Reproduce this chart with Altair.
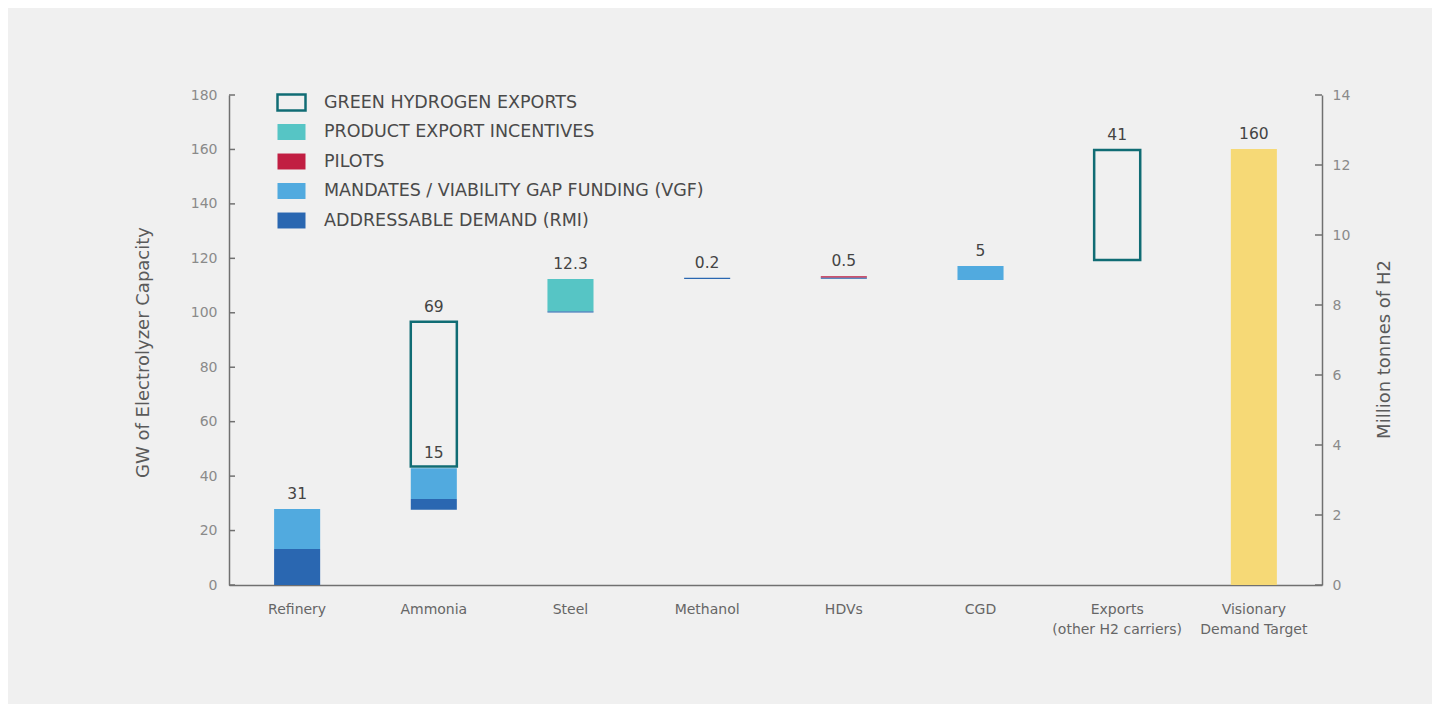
import altair as alt
import pandas as pd

# ---------------- data ----------------
categories = ["Refinery", "Ammonia", "Steel", "Methanol", "HDVs", "CGD",
              "Exports|(other H2 carriers)", "Visionary|Demand Target"]

legend_types = ["GREEN HYDROGEN EXPORTS", "PRODUCT EXPORT INCENTIVES", "PILOTS",
                "MANDATES / VIABILITY GAP FUNDING (VGF)", "ADDRESSABLE DEMAND (RMI)"]
legend_fills = ["transparent", "#56c5c5", "#c11e42", "#51aadf", "#2a67b1"]
legend_strokes = ["#106c74", "transparent", "transparent", "transparent", "transparent"]

ADDR, MAND, PIL, PROD, GREEN = (legend_types[4], legend_types[3], legend_types[2],
                                legend_types[1], legend_types[0])

seg_category = ["Refinery", "Refinery", "Ammonia", "Ammonia", "Ammonia", "Steel", "Steel",
                "Methanol", "HDVs", "HDVs", "CGD", "Exports|(other H2 carriers)"]
seg_type = [ADDR, MAND, ADDR, MAND, GREEN, ADDR, PROD, ADDR, ADDR, PIL, MAND, GREEN]
seg_start = [0, 13.2, 27.6, 31.6, 43.5, 100.1, 100.6, 112.4, 112.5, 113.0, 112.0, 119.4]
seg_end = [13.2, 27.9, 31.6, 42.9, 96.7, 100.6, 112.4, 112.9, 113.0, 113.4, 117.2, 159.8]

target_category = ["Visionary|Demand Target"]
target_value = [160.2]

label_category = ["Refinery", "Ammonia", "Ammonia", "Steel", "Methanol", "HDVs", "CGD",
                  "Exports|(other H2 carriers)", "Visionary|Demand Target"]
label_text = ["31", "69", "15", "12.3", "0.2", "0.5", "5", "41", "160"]
label_anchor = [27.9, 96.7, 42.9, 112.4, 112.9, 113.4, 117.2, 159.8, 160.2]

left_ticks = [0, 20, 40, 60, 80, 100, 120, 140, 160, 180]
right_ticks = [0, 2, 4, 6, 8, 10, 12, 14]

# ---------------- layout ----------------
W, H = 1093, 490
AXIS_COL = "#707070"
FONT = "DejaVu Sans"

segs = pd.DataFrame({"cat": seg_category, "type": seg_type, "start": seg_start, "end": seg_end})
target = pd.DataFrame({"cat": target_category, "value": target_value})
labels = pd.DataFrame({"cat": label_category, "text": label_text, "anchor": label_anchor})
lt = pd.DataFrame({"v": left_ticks})
rt = pd.DataFrame({"v": right_ticks})

xscale = alt.Scale(domain=categories, paddingInner=0.663, paddingOuter=0.33)
yscale = alt.Scale(domain=[0, 180], nice=False, zero=True)

x_axis = alt.Axis(labelExpr="split(datum.label, '|')", labelAngle=0, labelAlign="center",
                  labelBaseline="top", ticks=False, tickSize=0, labelPadding=17,
                  labelFont=FONT, labelFontSize=14, labelColor="#666666",
                  labelLineHeight=20, domainColor=AXIS_COL, domainWidth=1.5, grid=False)

y_axis = alt.Axis(values=left_ticks, ticks=False, tickSize=0, labelPadding=12,
                  labelFont=FONT, labelFontSize=14, labelColor="#8a8a8a",
                  domainColor=AXIS_COL, domainWidth=1.5, grid=False,
                  title="GW of Electrolyzer Capacity", titleFont=FONT,
                  titleFontSize=18, titleFontWeight="normal", titleColor="#5a5a5a",
                  titleAngle=270, titleAlign="center", titleBaseline="middle",
                  titleX=-86, titleY=257)


def xenc():
    return alt.X("cat:N", scale=xscale, sort=categories, title=None, axis=x_axis)


legend = alt.Legend(orient="none", legendX=47, legendY=-8, direction="vertical", title=None,
                    symbolType="M-1,-0.57L1,-0.57L1,0.57L-1,0.57Z", symbolSize=784,
                    symbolStrokeWidth=2.5, symbolOpacity=1,
                    labelFont=FONT, labelFontSize=17.5, labelColor="#4a4a4a",
                    labelOffset=17, rowPadding=0.5, padding=0, labelLimit=700)

yellow = alt.Chart(target).mark_bar(color="#f6d976").encode(
    x=xenc(),
    y=alt.Y("value:Q", scale=yscale, axis=y_axis),
)

bars = alt.Chart(segs).mark_bar(strokeWidth=2.5, opacity=1).encode(
    x=xenc(),
    y=alt.Y("start:Q", scale=yscale, axis=y_axis),
    y2="end:Q",
    fill=alt.Fill("type:N", scale=alt.Scale(domain=legend_types, range=legend_fills), legend=legend),
    stroke=alt.Stroke("type:N", scale=alt.Scale(domain=legend_types, range=legend_strokes), legend=legend),
)

texts = alt.Chart(labels).mark_text(font=FONT, fontSize=15.5, color="#444444",
                                     baseline="middle", dy=-15).encode(
    x=xenc(),
    y=alt.Y("anchor:Q", scale=yscale, axis=y_axis),
    text="text:N",
)

lticks = alt.Chart(lt).mark_rule(color=AXIS_COL, strokeWidth=1.5).encode(
    x=alt.value(0), x2=alt.value(6),
    y=alt.Y("v:Q", scale=yscale, axis=y_axis),
)

left = alt.layer(yellow, bars, texts, lticks)

right = alt.Chart(rt).mark_rule(color=AXIS_COL, strokeWidth=1.5).encode(
    x=alt.value(W - 7), x2=alt.value(W),
    y=alt.Y("v:Q", scale=alt.Scale(domain=[0, 14], nice=False),
            axis=alt.Axis(orient="right", values=right_ticks, ticks=False, tickSize=0,
                          labelPadding=10, labelFont=FONT, labelFontSize=14,
                          labelColor="#8a8a8a", domainColor=AXIS_COL, domainWidth=1.5,
                          grid=False, title="Million tonnes of H2", titleFont=FONT,
                          titleFontSize=18, titleFontWeight="normal", titleColor="#5a5a5a",
                          titleAngle=270, titleAlign="center", titleBaseline="middle",
                          titleX=62, titleY=254)),
)

chart = alt.layer(left, right).resolve_scale(y="independent").properties(
    width=W, height=H,
    autosize=alt.AutoSizeParams(type="none"),
    padding={"left": 221, "top": 87, "right": 110, "bottom": 119},
    background="#f0f0f0",
).configure_view(stroke=None)

chart.save("out.html", embed_options={"renderer": "svg", "actions": False})
